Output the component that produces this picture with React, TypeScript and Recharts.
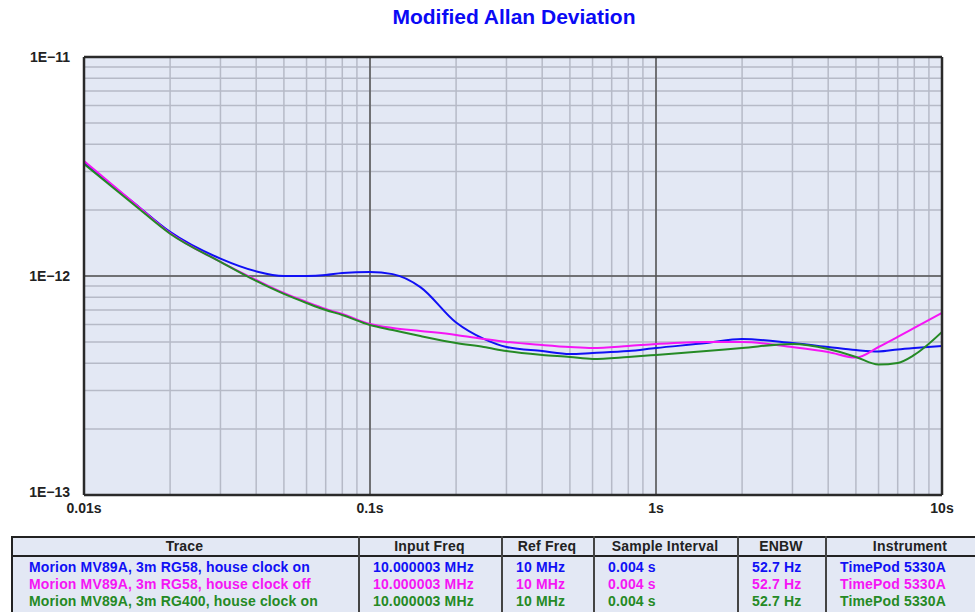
import { LineChart, Line, XAxis, YAxis, CartesianGrid, ReferenceLine } from 'recharts';

// averaging time (s)
const taus = [0.01, 0.015, 0.02, 0.03, 0.04, 0.05, 0.06, 0.07, 0.08, 0.1, 0.12, 0.15, 0.2, 0.25, 0.3, 0.4, 0.5, 0.6, 0.8, 1, 1.5, 2, 3, 4, 5, 6, 7, 8, 10];

// Mod ADEV, in units of 1e-12
const clockOnRG58 = [3.28, 2.15, 1.59, 1.2, 1.05, 1.0, 1.0, 1.01, 1.032, 1.043, 1.02, 0.89, 0.613, 0.516, 0.474, 0.454, 0.44, 0.445, 0.454, 0.469, 0.494, 0.516, 0.494, 0.474, 0.459, 0.452, 0.462, 0.469, 0.479];
const clockOffRG58 = [3.35, 2.15, 1.57, 1.16, 0.959, 0.836, 0.761, 0.707, 0.671, 0.604, 0.579, 0.561, 0.538, 0.516, 0.5, 0.484, 0.474, 0.469, 0.479, 0.489, 0.5, 0.5, 0.474, 0.45, 0.424, 0.474, 0.527, 0.579, 0.678];
const clockOnRG400 = [3.25, 2.11, 1.56, 1.16, 0.949, 0.828, 0.753, 0.699, 0.664, 0.597, 0.567, 0.532, 0.494, 0.474, 0.454, 0.436, 0.427, 0.418, 0.427, 0.436, 0.454, 0.469, 0.489, 0.464, 0.427, 0.394, 0.401, 0.436, 0.555];

const xGridTicks = [0.01, 0.02, 0.03, 0.04, 0.05, 0.06, 0.07, 0.08, 0.09, 0.1, 0.2, 0.3, 0.4, 0.5, 0.6, 0.7, 0.8, 0.9, 1, 2, 3, 4, 5, 6, 7, 8, 9, 10];
const xMajor = [0.01, 0.1, 1, 10];
const xMajorLabels = ['0.01s', '0.1s', '1s', '10s'];
const yGridTicks = [1e-13, 2e-13, 3e-13, 4e-13, 5e-13, 6e-13, 7e-13, 8e-13, 9e-13, 1e-12, 2e-12, 3e-12, 4e-12, 5e-12, 6e-12, 7e-12, 8e-12, 9e-12, 1e-11];
const yMajor = [1e-13, 1e-12, 1e-11];
const yMajorLabels = ['1E\u221213', '1E\u221212', '1E\u221211'];

const traceNames = ['Morion MV89A, 3m RG58, house clock on', 'Morion MV89A, 3m RG58, house clock off', 'Morion MV89A, 3m RG400, house clock on'];
const traceColors = ['#1010f5', '#f515f5', '#258a25'];
const inputFreq = ['10.000003 MHz', '10.000003 MHz', '10.000003 MHz'];
const refFreq = ['10 MHz', '10 MHz', '10 MHz'];
const sampleInterval = ['0.004 s', '0.004 s', '0.004 s'];
const enbw = ['52.7 Hz', '52.7 Hz', '52.7 Hz'];
const instrument = ['TimePod 5330A', 'TimePod 5330A', 'TimePod 5330A'];

const headers = ['Trace', 'Input Freq', 'Ref Freq', 'Sample Interval', 'ENBW', 'Instrument'];
const colLefts = [11, 358, 501, 593, 737, 825];
const colWidths = [347, 143, 92, 144, 88, 170];
const columns = [traceNames, inputFreq, refFreq, sampleInterval, enbw, instrument];

const data = taus.map((t, i) => ({
  tau: t,
  a: clockOnRG58[i] * 1e-12,
  b: clockOffRG58[i] * 1e-12,
  c: clockOnRG400[i] * 1e-12,
}));

const font = '"Liberation Sans", Arial, sans-serif';
const plotBg = '#e3e8f4';

const fmtX = (v: number) => {
  const k = xMajor.findIndex((m) => Math.abs(m - v) / m < 1e-6);
  return k >= 0 ? xMajorLabels[k] : '';
};

const YTick = (props: any) => {
  const { x, y, payload } = props;
  const k = yMajor.findIndex((m) => Math.abs(m - payload.value) / m < 1e-6);
  if (k < 0) return null;
  const dy = k === 0 ? -3 : 0;
  return (
    <text x={x} y={y + dy} dy={5} textAnchor="end" fontFamily={font} fontSize={14} fontWeight="bold" fill="#222">
      {yMajorLabels[k]}
    </text>
  );
};

export default function App() {
  return (
    <div style={{ position: 'absolute', left: 0, top: 0, width: 975, height: 612, background: '#fff', overflow: 'hidden', fontFamily: font }}>
      <div style={{ position: 'absolute', left: 0, width: 1028, top: 5, textAlign: 'center', color: '#0a0af5', fontWeight: 'bold', fontSize: 21 }}>
        Modified Allan Deviation
      </div>
      <div style={{ position: 'absolute', left: 0, top: 0 }}>
        <LineChart width={975} height={530} data={data} margin={{ top: 57, right: 33, left: 0, bottom: 0 }}>
          <CartesianGrid stroke="#b6bac7" strokeWidth={1.5} fill={plotBg} fillOpacity={1} />
          <XAxis
            dataKey="tau"
            type="number"
            scale="log"
            domain={[0.01, 10]}
            allowDataOverflow
            ticks={xGridTicks}
            interval={0}
            tickFormatter={fmtX}
            tickLine={false}
            axisLine={false}
            height={35}
            tickMargin={2}
            tick={{ fontFamily: font, fontSize: 14, fontWeight: 'bold', fill: '#222' }}
          />
          <YAxis
            type="number"
            scale="log"
            domain={[1e-13, 1e-11]}
            allowDataOverflow
            ticks={yGridTicks}
            interval={0}
            tick={<YTick />}
            tickLine={false}
            axisLine={false}
            width={84}
            tickSize={14}
            tickMargin={0}
          />
          {xMajor.slice(1, 3).map((v) => (
            <ReferenceLine key={'x' + v} x={v} stroke="#555" strokeWidth={1.5} />
          ))}
          <ReferenceLine y={1e-12} stroke="#555" strokeWidth={1.5} />
          <Line type="monotone" dataKey="a" stroke={traceColors[0]} strokeWidth={2} dot={false} isAnimationActive={false} />
          <Line type="monotone" dataKey="b" stroke={traceColors[1]} strokeWidth={2} dot={false} isAnimationActive={false} />
          <Line type="monotone" dataKey="c" stroke={traceColors[2]} strokeWidth={2} dot={false} isAnimationActive={false} />
          <ReferenceLine x={0.01} stroke="#2a2a2a" strokeWidth={2.5} />
          <ReferenceLine x={10} stroke="#2a2a2a" strokeWidth={2.5} />
          <ReferenceLine y={1e-13} stroke="#2a2a2a" strokeWidth={2.5} />
          <ReferenceLine y={1e-11} stroke="#2a2a2a" strokeWidth={2.5} />
        </LineChart>
      </div>
      <div style={{ position: 'absolute', left: 11, top: 536, width: 1000, height: 100, background: plotBg, borderTop: '2px solid #222', borderLeft: '2px solid #222', boxSizing: 'border-box' }} />
      <div style={{ position: 'absolute', left: 11, top: 555, width: 1000, height: 2, background: '#222' }} />
      {colLefts.slice(1).map((l) => (
        <div key={l} style={{ position: 'absolute', left: l, top: 536, width: 2, height: 100, background: '#444' }} />
      ))}
      {headers.map((h, i) => (
        <div key={h} style={{ position: 'absolute', left: colLefts[i], width: colWidths[i], top: 538, textAlign: 'center', fontWeight: 'bold', fontSize: 14, letterSpacing: 0.2, color: '#222' }}>
          {h}
        </div>
      ))}
      {columns.map((col, ci) =>
        col.map((txt, ri) => (
          <div
            key={ci + '-' + ri}
            style={{ position: 'absolute', left: colLefts[ci] + (ci === 0 ? 18 : 15), top: 559 + ri * 17, fontWeight: 'bold', fontSize: 14, letterSpacing: 0.15, color: traceColors[ri], whiteSpace: 'nowrap' }}
          >
            {txt}
          </div>
        ))
      )}
    </div>
  );
}
